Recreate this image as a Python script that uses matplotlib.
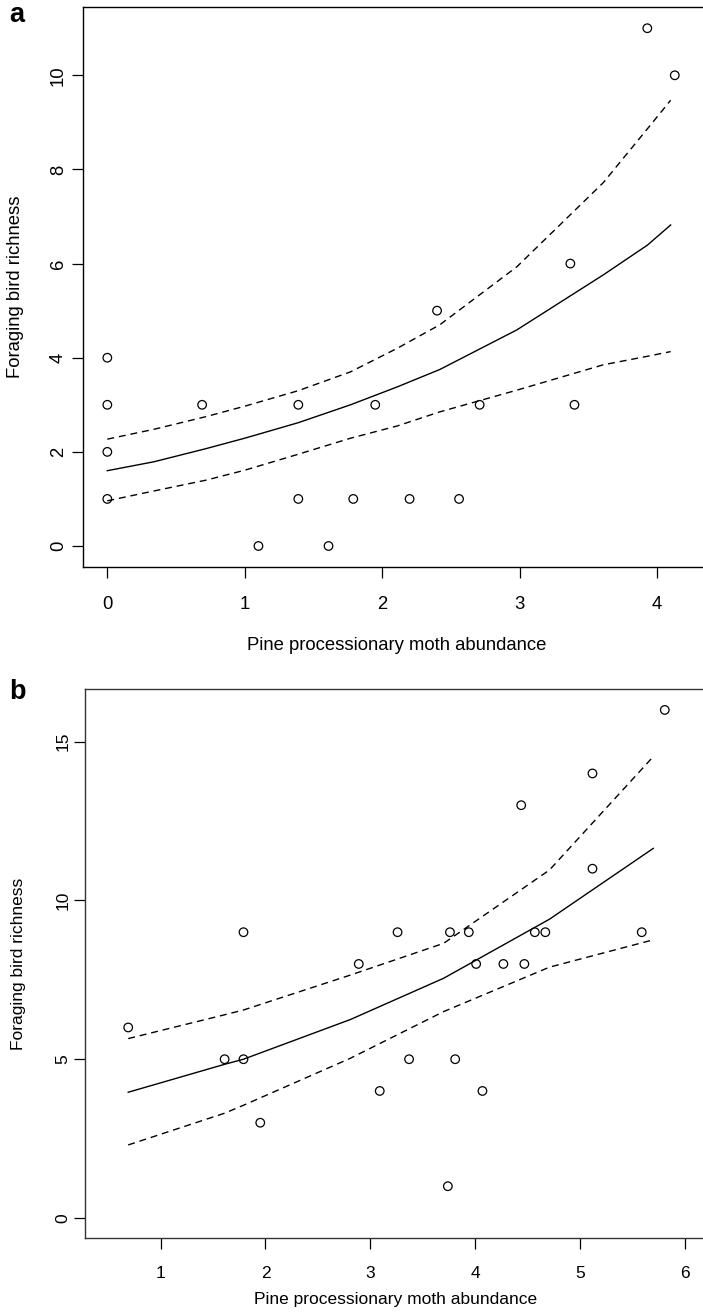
import matplotlib
matplotlib.use("Agg")
import matplotlib.pyplot as plt

plt.rcParams['font.family'] = ['Liberation Sans', 'DejaVu Sans']

# --- panel a data ---
moth_a = [0, 0, 0, 0, 0.69, 1.10, 1.39, 1.39, 1.61, 1.79, 1.95, 2.20, 2.40, 2.56, 2.71, 3.37, 3.40, 3.93, 4.13]
birds_a = [4, 3, 2, 1, 3, 0, 3, 1, 0, 1, 3, 1, 5, 1, 3, 6, 3, 11, 10]

fit_x_a = [0, 0.34, 0.72, 1.0, 1.39, 1.77, 2.11, 2.42, 2.98, 3.61, 3.93, 4.10]
fit_a = [1.60, 1.79, 2.07, 2.29, 2.62, 3.00, 3.38, 3.75, 4.59, 5.76, 6.39, 6.82]
upper_a = [2.27, 2.48, 2.75, 2.97, 3.30, 3.70, 4.20, 4.70, 5.93, 7.72, 8.86, 9.47]
lower_a = [0.96, 1.17, 1.40, 1.61, 1.95, 2.29, 2.55, 2.85, 3.31, 3.85, 4.03, 4.13]

# --- panel b data ---
moth_b = [0.69, 1.61, 1.79, 1.79, 1.95, 2.89, 3.09, 3.26, 3.37, 3.74, 3.76, 3.81,
          3.94, 4.01, 4.07, 4.27, 4.44, 4.47, 4.57, 4.67, 5.12, 5.12, 5.59, 5.81]
birds_b = [6, 5, 5, 9, 3, 8, 4, 9, 5, 1, 9, 5, 9, 8, 4, 8, 13, 8, 9, 9, 14, 11, 9, 16]

fit_x_b = [0.69, 1.61, 1.79, 2.81, 3.70, 4.71, 5.70]
fit_b = [3.96, 4.84, 5.00, 6.25, 7.55, 9.41, 11.64]
upper_b = [5.65, 6.40, 6.55, 7.65, 8.65, 10.96, 14.53]
lower_b = [2.30, 3.30, 3.55, 5.03, 6.50, 7.90, 8.76]

W, H = 703, 1312
fig = plt.figure(figsize=(W / 100, H / 100), dpi=100)


def px(x, y):
    # pixel (from top-left) -> figure fraction
    return x / W, 1 - y / H


def panel(rect, x, y, fx, fy, up, lo, xlim, ylim, xticks, yticks, fs, xpad, ypad, spine_col):
    l, t, r, b = rect
    ax = fig.add_axes([l / W, 1 - b / H, (r - l) / W, (b - t) / H])
    ax.scatter(x, y, s=38, facecolors='none', edgecolors='black', linewidths=0.9, zorder=3)
    ax.plot(fx, fy, color='black', lw=1.0)
    for band in (up, lo):
        ln, = ax.plot(fx, band, color='black', lw=1.0)
        ln.set_dashes([5, 3.5])
    ax.set_xlim(*xlim)
    ax.set_ylim(*ylim)
    ax.set_xticks(xticks)
    ax.set_yticks(yticks)
    ax.set_yticklabels([str(v) for v in yticks], rotation=90, va='center')
    ax.tick_params(axis='x', length=7.8, width=0.9, labelsize=fs, pad=xpad)
    ax.tick_params(axis='y', length=7.8, width=0.9, labelsize=fs, pad=ypad)
    ax.spines['right'].set_visible(False)
    for s in ('left', 'top', 'bottom'):
        ax.spines[s].set_linewidth(1.0)
        ax.spines[s].set_color(spine_col)
    return ax


ax_a = panel((83, 7, 703, 567), moth_a, birds_a, fit_x_a, fit_a, upper_a, lower_a,
             (-0.177, 4.3355), (-0.446, 11.451), [0, 1, 2, 3, 4], [0, 2, 4, 6, 8, 10],
             13.3, 13.0, 3.7, 'black')
ax_b = panel((85, 689.3, 703, 1238.3), moth_b, birds_b, fit_x_b, fit_b, upper_b, lower_b,
             (0.2777, 6.1746), (-0.64, 16.65), [1, 2, 3, 4, 5, 6], [0, 5, 10, 15],
             12.5, 12.2, 2.9, '#333333')

label = "Pine processionary moth abundance"
ylab = "Foraging bird richness"

fig.text(*px(396.7, 649.5), label, fontsize=13.3, ha='center', va='baseline')
fig.text(*px(7, 287), ylab, fontsize=13.3, rotation=90, ha='left', va='center')
fig.text(*px(395.8, 1304), label, fontsize=12.5, ha='center', va='baseline')
fig.text(*px(10.5, 964), ylab, fontsize=12.5, rotation=90, ha='left', va='center')

fig.text(*px(9, 22), "a", fontsize=19.5, fontweight='bold', ha='left', va='baseline')
fig.text(*px(9, 699), "b", fontsize=19.5, fontweight='bold', ha='left', va='baseline')

fig.savefig("out.png", dpi=100)
